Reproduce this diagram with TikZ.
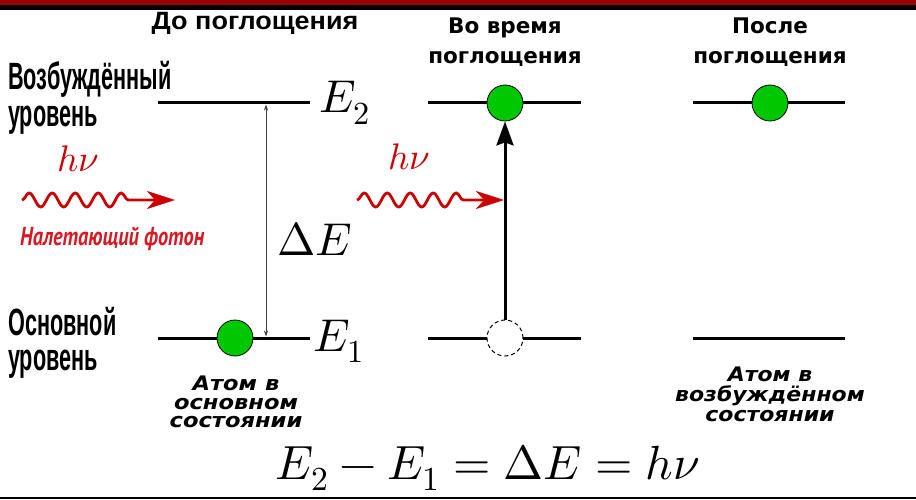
\documentclass[tikz,border=0pt]{standalone}
\usepackage{fontspec}
\usepackage{unicode-math}
\setmathfont{Latin Modern Math}
\newfontfamily\arialf{Liberation Sans}
\newfontfamily\dejaf{DejaVu Sans}
\newfontfamily\ptf{PT Sans}
\usetikzlibrary{arrows.meta,decorations.pathmorphing}
\definecolor{topred}{RGB}{153,0,0}
\definecolor{atomgreen}{RGB}{0,200,0}
\definecolor{photonred}{RGB}{204,0,0}
\definecolor{labelred}{RGB}{215,25,35}
\newcommand{\narr}[2]{\scalebox{#1}[1]{#2}}
\begin{document}
\begin{tikzpicture}[x=1pt,y=1pt,
  level/.style={line width=3pt},
  atom/.style={circle,draw=black,line width=0.8pt,fill=atomgreen,minimum size=36pt,inner sep=0pt},
  hole/.style={circle,draw=black,dashed,dash pattern=on 4pt off 3pt,line width=1pt,fill=white,minimum size=36pt,inner sep=0pt},
  photon/.style={draw=photonred,line width=2.8pt,decorate,
     decoration={snake,amplitude=7pt,segment length=23pt,post length=36pt},
     -{Stealth[length=28pt,width=18pt,inset=8pt]}},
  lvltxt/.style={anchor=base west,inner sep=0pt,font=\arialf\bfseries\fontsize{38}{38}\selectfont},
  ttl/.style={anchor=base,inner sep=0pt,font=\dejaf\bfseries\fontsize{21.5}{21.5}\selectfont},
  atomtxt/.style={anchor=base,inner sep=0pt,font=\dejaf\bfseries\itshape\fontsize{20}{20}\selectfont},
  mathlbl/.style={anchor=base west,inner sep=0pt,font=\fontsize{46}{46}\selectfont},
  hnu/.style={anchor=base west,inner sep=0pt,text=photonred,font=\fontsize{37}{37}\selectfont}
]
\useasboundingbox (0,0) rectangle (916,499);
% frame bars
\fill[topred] (0,494) rectangle (916,499);
\fill[black] (0,489) rectangle (916,494);
\fill[black] (0,0) rectangle (916,2.5);

% titles
\node[ttl,font=\arialf\bfseries\fontsize{25}{25}\selectfont] (t1) at (255,469) {\narr{1.08}{До поглощения}};
\node[ttl] (t2a) at (505,465) {Во время};
\node[ttl] (t2b) at (505,435) {поглощения};
\node[ttl] (t3a) at (770,465) {После};
\node[ttl] (t3b) at (770,435) {поглощения};

% left level labels
\node[lvltxt] (ex1) at (8,409) {\narr{0.57}{Возбуждённый}};
\node[lvltxt] (ex2) at (8,372) {\narr{0.57}{уровень}};
\node[lvltxt] (gr1) at (8,164) {\narr{0.57}{Основной}};
\node[lvltxt] (gr2) at (8,129) {\narr{0.57}{уровень}};

% levels: before
\coordinate (b2l) at (158,396); \coordinate (b2r) at (310,396);
\coordinate (b1l) at (158,161); \coordinate (b1r) at (310,161);
\draw[level] (b2l) -- (b2r);
\draw[level] (b1l) -- (b1r);
\node[atom] (atomA) at (235,161) {};
\coordinate (dEt) at (266,396); \coordinate (dEb) at (266,161);
\draw[line width=0.7pt,black!75,{Stealth[length=6pt,width=4pt]}-{Stealth[length=6pt,width=4pt]},shorten >=1.5pt,shorten <=1.5pt] (dEt) -- (dEb);
\node[mathlbl] (E2) at (319,386) {$E_2$};
\node[mathlbl] (E1) at (313,148) {$E_1$};
\node[mathlbl] (dE) at (277,244) {$\Delta E$};

% incoming photon
\node[hnu] (hnu1) at (57,327) {$h\nu$};
\coordinate (ph1s) at (22,299); \coordinate (ph1e) at (175,299);
\draw[photon] (ph1s) -- (ph1e);
\node[anchor=base west,inner sep=0pt,text=labelred,font=\ptf\bfseries\itshape\fontsize{26}{26}\selectfont] (inc) at (20,254) {\narr{0.78}{Налетающий фотон}};
\node[atomtxt] (a1) at (236,109) {\narr{1.13}{Атом в}};
\node[atomtxt] (a2) at (236,90) {\narr{1.13}{основном}};
\node[atomtxt] (a3) at (236,72) {\narr{1.13}{состоянии}};

% during
\coordinate (m2l) at (428,396); \coordinate (m2r) at (581,396);
\coordinate (m1l) at (428,161); \coordinate (m1r) at (581,161);
\draw[level] (m2l) -- (m2r);
\draw[level] (m1l) -- (m1r);
\node[hole] (holeB) at (505,161) {};
\node[atom] (atomB) at (505,396) {};
\draw[line width=3pt,-{Stealth[length=24pt,width=17pt,inset=3pt]}] (holeB.north) -- (atomB.south);
\node[hnu] (hnu2) at (388,329) {$h\nu$};
\coordinate (ph2s) at (357,299); \coordinate (ph2e) at (504,299);
\draw[photon] (ph2s) -- (ph2e);

% after
\coordinate (r2l) at (693,396); \coordinate (r2r) at (845,396);
\coordinate (r1l) at (693,161); \coordinate (r1r) at (845,161);
\draw[level] (r2l) -- (r2r);
\draw[level] (r1l) -- (r1r);
\node[atom] (atomC) at (770,396) {};
\node[atomtxt] (c1) at (770,118) {\narr{1.1}{Атом в}};
\node[atomtxt] (c2) at (770,98) {\narr{1.1}{возбуждённом}};
\node[atomtxt] (c3) at (770,78) {\narr{1.1}{состоянии}};

% equation
\node[anchor=base,inner sep=0pt,font=\fontsize{48}{48}\selectfont] (eq) at (488,20) {$E_2 - E_1 = \Delta E = h\nu$};
\end{tikzpicture}
\end{document}
